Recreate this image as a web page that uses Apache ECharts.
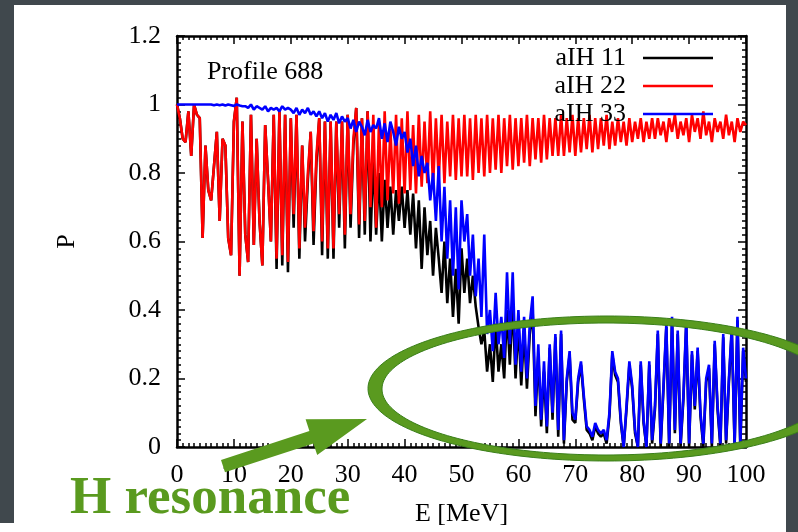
<!DOCTYPE html>
<html>
<head>
<meta charset="utf-8">
<script src="https://cdn.jsdelivr.net/npm/echarts@6/dist/echarts.min.js"></script>
<style>
html,body{margin:0;padding:0;background:#40484d;}
#c{width:798px;height:532px;}
</style>
</head>
<body>
<div id="c"></div>
<script>
// ---- data (P sampled every 0.5 MeV from 0 to 100 MeV) ----
const energyStart = 0;
const energyStep = 0.5;
const seriesNames = ['aIH 11', 'aIH 22', 'aIH 33'];
const xTickLabels = ['0','10','20','30','40','50','60','70','80','90','100'];
const yTickLabels = ['0','0.2','0.4','0.6','0.8','1','1.2'];

const aIH11 = [
1.00,0.96,0.90,0.89,0.98,0.85,1.00,0.97,0.96,0.61,0.88,0.75,0.72,0.82,0.92,0.66,0.90,0.88,0.61,0.56,0.95,1.02,0.50,0.95,0.62,0.54,0.97,0.59,0.90,0.66,0.53,0.94,0.78,0.60,
0.97,0.52,0.98,0.53,0.97,0.51,0.96,0.64,0.97,0.55,0.88,0.60,0.78,0.92,0.59,0.83,0.96,0.56,0.95,0.55,0.95,0.55,0.95,0.64,0.95,0.58,0.97,0.64,0.88,0.99,0.61,0.96,0.62,0.98,
0.60,0.85,0.62,0.80,0.60,0.78,0.64,0.76,0.62,0.75,0.66,0.76,0.64,0.75,0.62,0.74,0.58,0.72,0.52,0.70,0.56,0.66,0.50,0.64,0.55,0.45,0.60,0.42,0.55,0.38,0.52,0.36,
0.58,0.45,0.55,0.42,0.50,0.41,0.35,0.30,0.34,0.22,
0.30,0.19,0.36,0.22,0.30,0.20,0.40,0.24,0.42,0.20,
0.36,0.18,0.34,0.17,0.33,0.40,0.09,0.27,0.06,0.22,
0.04,0.29,0.08,0.32,0.03,0.33,0.01,0.19,0.27,0.08,
0.07,0.19,0.24,0.14,0.05,0.04,0.02,0.06,0.04,0.03,
0.04,0.01,0.09,0.27,0.21,0.19,0.07,0.00,0.11,0.24,
0.17,0.04,0.00,0.24,0.07,0.00,0.24,0.01,
0.11,0.33,0.00,0.17,0.35,0.00,0.37,0.04,0.33,0.00,0.14,0.36,0.00,0.27,0.11,0.28,0.09,0.00,0.19,0.23,0.00,0.30,0.11,0.00,0.32,0.01,0.19,0.34,0.00,0.37,0.00,0.28,0.19
];

const aIH22 = [
1.00,0.96,0.90,0.89,0.98,0.85,1.00,0.97,0.96,0.61,0.88,0.75,0.72,0.82,0.92,0.66,0.90,0.88,0.61,0.56,0.95,1.02,0.50,0.95,0.62,0.54,0.97,0.59,0.90,0.66,0.53,0.94,0.78,0.60,
0.97,0.55,0.98,0.56,0.97,0.54,0.96,0.68,0.97,0.58,0.88,0.64,0.80,0.92,0.63,0.85,0.96,0.60,0.95,0.58,0.95,0.58,0.95,0.68,0.95,0.62,0.97,0.68,0.90,0.99,0.65,0.96,0.66,0.98,
0.70,0.97,0.64,0.95,0.70,0.98,0.72,0.93,0.74,0.97,0.71,0.96,0.74,0.98,0.75,0.94,0.74,0.97,0.76,0.95,0.77,0.98,0.76,0.96,0.78,0.97,0.77,0.95,0.79,0.97,0.78,0.96,
0.79,0.97,0.79,0.96,0.78,0.97,0.80,0.96,0.79,0.97,0.80,0.96,0.81,0.97,0.80,0.96,0.82,0.97,0.81,0.96,0.82,0.96,0.83,0.97,0.82,0.96,0.84,0.96,0.83,0.97,0.84,0.96,0.85,0.96,
0.85,0.97,0.85,0.96,0.86,0.97,0.85,0.96,0.86,0.96,0.87,0.97,0.86,0.96,0.87,0.96,0.88,0.97,0.87,0.95,0.88,0.96,0.89,0.95,0.88,0.96,0.89,0.95,0.90,0.96,0.89,0.95,0.90,0.96,
0.90,0.96,0.91,0.95,0.89,0.96,0.92,0.97,0.90,0.95,0.91,0.96,0.89,0.97,0.92,0.96,0.90,0.98,0.91,0.95,0.89,0.96,0.92,0.95,0.90,0.97,0.91,0.95,0.89,0.96,0.92,0.95,0.94
];

const aIH33 = [
1.00,1.00,1.00,1.00,1.00,1.00,1.00,1.00,1.00,1.00,1.00,1.00,1.00,0.998,1.00,0.998,1.00,0.997,1.00,0.998,0.996,1.00,0.997,0.995,
0.995,0.99,1.0,0.985,0.995,0.99,0.985,0.995,0.98,0.99,0.985,0.99,0.98,0.995,0.985,0.99,
0.985,0.975,0.99,0.97,0.985,0.975,0.99,0.97,0.98,0.965,
0.98,0.96,0.975,0.95,0.97,0.955,0.975,0.945,0.965,0.95,
0.96,0.93,0.955,0.92,0.95,0.935,0.91,0.955,0.92,0.94,
0.93,0.96,0.90,0.945,0.89,0.95,0.92,0.88,0.935,0.90,
0.92,0.86,0.90,0.82,0.88,0.79,0.85,0.80,0.83,0.72,
0.80,0.66,0.82,0.60,0.76,0.55,0.72,0.50,0.70,0.46,
0.72,0.60,0.68,0.50,0.62,0.44,0.55,0.38,0.62,0.33,
0.40,0.28,0.45,0.30,0.38,0.26,0.51,0.30,0.51,0.24,
0.40,0.22,0.38,0.20,0.36,0.44,0.12,0.30,0.08,0.25,
0.06,0.30,0.10,0.33,0.05,0.34,0.02,0.20,0.28,0.10,
0.08,0.20,0.25,0.15,0.06,0.05,0.03,0.07,0.05,0.04,
0.05,0.02,0.10,0.28,0.22,0.20,0.08,0.00,0.12,0.25,
0.18,0.05,0.00,0.25,0.08,0.00,0.25,0.02,
0.12,0.34,0.01,0.18,0.36,0.01,0.38,0.05,0.34,0.01,0.15,0.37,0.01,0.28,0.12,0.29,0.10,0.01,0.20,0.24,0.01,0.31,0.12,0.01,0.33,0.02,0.20,0.35,0.01,0.38,0.01,0.29,0.20
];

// ---- chart ----
const FONT = 'Liberation Serif';
const toPairs = arr => arr.map((p, i) => [energyStart + i * energyStep, p]);

function makeX(pos, showLabel) {
  return {
    type: 'value', position: pos, min: 0, max: 100, interval: 10,
    axisLine: { show: true, onZero: false, lineStyle: { color: '#000', width: 2.5 } },
    axisTick: { show: true, inside: true, length: 8, lineStyle: { color: '#000', width: 1.5 } },
    minorTick: { show: true, splitNumber: 10, length: 4, lineStyle: { color: '#000', width: 1.5 } },
    splitLine: { show: false },
    axisLabel: { show: showLabel, fontFamily: FONT, fontSize: 26, color: '#000', margin: 15,
      formatter: v => xTickLabels[Math.round(v / 10)] },
    name: showLabel ? 'E [MeV]' : '', nameLocation: 'middle', nameGap: 54,
    nameTextStyle: { fontFamily: FONT, fontSize: 26, color: '#000' }
  };
}
function makeY(pos, showLabel) {
  return {
    type: 'value', position: pos, min: 0, max: 1.2, interval: 0.2,
    axisLine: { show: true, onZero: false, lineStyle: { color: '#000', width: 2.5 } },
    axisTick: { show: true, inside: true, length: 8, lineStyle: { color: '#000', width: 1.5 } },
    minorTick: { show: true, splitNumber: 10, length: 4, lineStyle: { color: '#000', width: 1.5 } },
    splitLine: { show: false },
    axisLabel: { show: showLabel, fontFamily: FONT, fontSize: 26, color: '#000', margin: 16,
      formatter: v => yTickLabels[Math.round(v / 0.2)] },
    name: showLabel ? 'P' : '', nameLocation: 'middle', nameGap: 97, nameRotate: 90,
    nameTextStyle: { fontFamily: FONT, fontSize: 26, color: '#000' }
  };
}

// ring (ellipse annotation) outline points
function ringPoints(cx, cy, rxo, ryo, rxi, ryi, n) {
  const pts = [];
  for (let i = 0; i <= n; i++) { const a = 2 * Math.PI * i / n; pts.push([cx + rxo * Math.cos(a), cy + ryo * Math.sin(a)]); }
  for (let i = n; i >= 0; i--) { const a = 2 * Math.PI * i / n; pts.push([cx - 1 + rxi * Math.cos(a), cy + 0.5 + ryi * Math.sin(a)]); }
  return pts;
}

const chart = echarts.init(document.getElementById('c'), null, { renderer: 'canvas', width: 798, height: 532 });
const seriesData = [aIH11, aIH22, aIH33];
const seriesColors = ['#000000', '#ff0000', '#0000ff'];

chart.setOption({
  animation: false,
  backgroundColor: '#40484d',
  grid: { left: 177, top: 36, right: 52, bottom: 83, containLabel: false },
  xAxis: [makeX('bottom', true), makeX('top', false)],
  yAxis: [makeY('left', true), makeY('right', false)],
  legend: {
    orient: 'vertical', right: 80, top: 40, align: 'right', icon: 'rect',
    itemWidth: 70, itemHeight: 2.5, itemGap: 2,
    textStyle: { fontFamily: FONT, fontSize: 26, color: '#000', lineHeight: 24, padding: [0, 12, 0, 0] },
    data: seriesNames
  },
  series: seriesNames.map((name, k) => ({
    name: name, type: 'line', showSymbol: false, symbol: 'none',
    data: toPairs(seriesData[k]),
    lineStyle: { color: seriesColors[k], width: 2.6 },
    itemStyle: { color: seriesColors[k] },
    z: 2 + k
  })),
  graphic: [
    { type: 'rect', z: -10, shape: { x: 14, y: 5, width: 772, height: 527 }, style: { fill: '#ffffff' } },
    { type: 'rect', z: -10, shape: { x: 0, y: 523, width: 14, height: 9 }, style: { fill: '#ffffff' } },
    { type: 'text', z: 50, x: 207, y: 72, style: { text: 'Profile 688', font: '26px "Liberation Serif"', fill: '#000', textAlign: 'left', textVerticalAlign: 'middle' } },
    { type: 'polygon', z: 60, shape: { points: ringPoints(607, 388.5, 239, 72.5, 224, 66, 200) }, style: { fill: '#5a9a1f', stroke: '#3a7f1a', lineWidth: 1 } },
    { type: 'polygon', z: 60, shape: { points: [[221, 460], [309.4, 431], [305.6, 419.3], [367, 419], [317.2, 455.1], [313.4, 443.4], [225, 472.2]] }, style: { fill: '#5a9a1f' } },
    { type: 'text', z: 60, x: 70, y: 499, style: { text: 'H resonance', font: 'bold 53px "Liberation Serif"', fill: '#5a9a1f', textAlign: 'left', textVerticalAlign: 'middle' } }
  ]
});
</script>
</body>
</html>
